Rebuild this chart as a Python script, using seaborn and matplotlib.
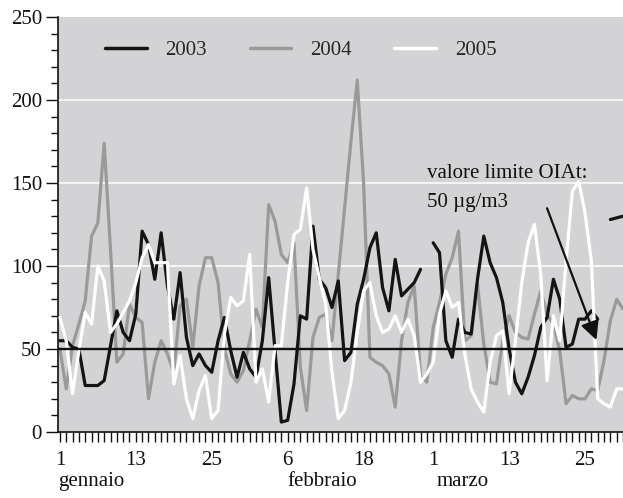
import numpy as np
import pandas as pd
import seaborn as sns
import matplotlib.pyplot as plt
from matplotlib.lines import Line2D
from matplotlib.ticker import MultipleLocator, FixedLocator

nan = np.nan

# ------------------------------
# data (daily values, 1 Jan - 31 Mar)
# ------------------------------
days = list(range(1, 91))

pm10_2003 = [55, 55, 51, 50, 28, 28, 28, 31, 52, 73,
             60, 55, 71, 121, 113, 92, 120, 88, 68, 96,
             57, 40, 47, 40, 36, 55, 69, 49, 33, 48,
             38, 33, 55, 93, 49, 6, 7, 29, 70, 68,
             124, 92, 87, 75, 91, 43, 48, 77, 92, 111,
             120, 87, 73, 104, 82, 86, 90, 98, nan, 114,
             108, 55, 45, 68, 60, 59, 92, 118, 102, 93,
             78, 50, 30, 23, 33, 46, 63, 69, 92, 80,
             51, 53, 68, 68, 73, 68, nan, 128, 129, 130]

pm10_2004 = [50, 26, 52, 65, 79, 118, 126, 174, 110, 42,
             47, 77, 69, 66, 20, 42, 55, 47, 36, 76,
             80, 51, 88, 105, 105, 90, 50, 35, 30, 37,
             55, 74, 63, 137, 127, 107, 102, 114, 39, 13,
             57, 69, 71, 55, 95, 135, 175, 212, 150, 45,
             42, 40, 35, 15, 55, 78, 88, 34, 30, 63,
             78, 95, 105, 121, 55, 58, 89, 53, 30, 29,
             55, 70, 60, 57, 56, 71, 85, 71, 65, 49,
             17, 22, 20, 20, 26, 25, 43, 67, 80, 74]

pm10_2005 = [69, 55, 23, 49, 72, 65, 100, 91, 60, 65,
             72, 79, 90, 105, 113, 102, 102, 102, 29, 46,
             20, 8, 25, 34, 8, 13, 59, 81, 76, 79,
             107, 30, 38, 18, 52, 52, 90, 119, 122, 147,
             110, 93, 77, 36, 8, 13, 30, 60, 85, 90,
             70, 60, 62, 70, 60, 68, 58, 30, 35, 42,
             71, 85, 75, 78, 47, 26, 18, 12, 42, 58,
             61, 23, 55, 90, 114, 125, 95, 31, 70, 55,
             103, 145, 151, 132, 103, 20, 17, 15, 26, 26]

years = ["2003", "2004", "2005"]
tick_days = [1, 13, 25, 37, 49, 60, 72, 84]
tick_labels = ["1", "13", "25", "6", "18", "1", "13", "25"]
months = ["gennaio", "febbraio", "marzo"]
month_centers = [6.0, 42.4, 64.7]
limit_value = 50
limit_text = ["valore limite OIAt:", "50 \u00b5g/m3"]

# ------------------------------
# style
# ------------------------------
sns.set_style("ticks")
plt.rcParams["font.family"] = ["Liberation Serif", "DejaVu Serif"]
FS = 15
colors = {"2003": "#141414", "2004": "#9a9a9a", "2005": "#ffffff"}
zorders = {"2003": 3, "2004": 2, "2005": 4}

fig = plt.figure(figsize=(6.23, 4.98), dpi=100)
ax = fig.add_axes([58 / 623, 66 / 498, 565 / 623, 415 / 498])
ax.set_facecolor("#d3d3d5")

series = {"2003": pm10_2003, "2004": pm10_2004, "2005": pm10_2005}
for yr in years:
    vals = pd.Series(series[yr], dtype=float)
    seg = vals.isna().cumsum()
    df = pd.DataFrame({"day": days, "val": vals, "seg": seg}).dropna()
    sns.lineplot(data=df, x="day", y="val", units="seg", estimator=None,
                 color=colors[yr], lw=2.3, ax=ax, zorder=zorders[yr],
                 legend=False)

# limit line
ax.axhline(limit_value, color="#111111", lw=1.7, zorder=5)

# grid
for g in [100, 150, 200]:
    ax.axhline(g, color="white", lw=1.1, zorder=1)

ax.set_xlim(0.7, 90)
ax.set_ylim(0, 250)
ax.set_xlabel("")
ax.set_ylabel("")

ax.yaxis.set_major_locator(MultipleLocator(50))
ax.yaxis.set_minor_locator(MultipleLocator(10))
ax.xaxis.set_major_locator(FixedLocator(tick_days))
ax.xaxis.set_minor_locator(MultipleLocator(1))
ax.set_xticklabels(tick_labels)

ax.tick_params(axis="y", which="major", length=8.5, width=1.0, labelsize=FS, pad=3, colors="#111111")
ax.tick_params(axis="y", which="minor", length=5, width=1.0, colors="#111111")
ax.tick_params(axis="x", which="both", length=7, width=1.0, labelsize=FS, pad=7, colors="#111111")

for s in ["top", "right"]:
    ax.spines[s].set_visible(False)
for s in ["left", "bottom"]:
    ax.spines[s].set_color("#111111")
    ax.spines[s].set_linewidth(1.2)

# month names
for name, c in zip(months, month_centers):
    ax.text(c, -0.13, name, transform=ax.get_xaxis_transform(),
            ha="center", va="baseline", fontsize=FS, color="#111111")

# legend
handles = [Line2D([0], [0], color=colors[y], lw=2.5) for y in years]
ax.legend(handles, years, loc="center left", bbox_to_anchor=(0.083, 0.92),
          ncol=3, frameon=False, fontsize=FS, handlelength=2.0,
          handletextpad=0.9, columnspacing=2.05, borderpad=0, borderaxespad=0)

# annotation
ax.text(59.1, 153, limit_text[0], fontsize=FS, va="baseline", ha="left", color="#111111")
ax.text(59.1, 135.5, limit_text[1], fontsize=FS, va="baseline", ha="left", color="#111111")
ax.annotate("", xy=(85.8, 55.4), xytext=(78.0, 134.8),
            arrowprops=dict(arrowstyle="-|>", color="#111111", lw=1.6,
                            mutation_scale=28, shrinkA=0, shrinkB=0),
            zorder=6)

fig.savefig("out.png", dpi=100)
